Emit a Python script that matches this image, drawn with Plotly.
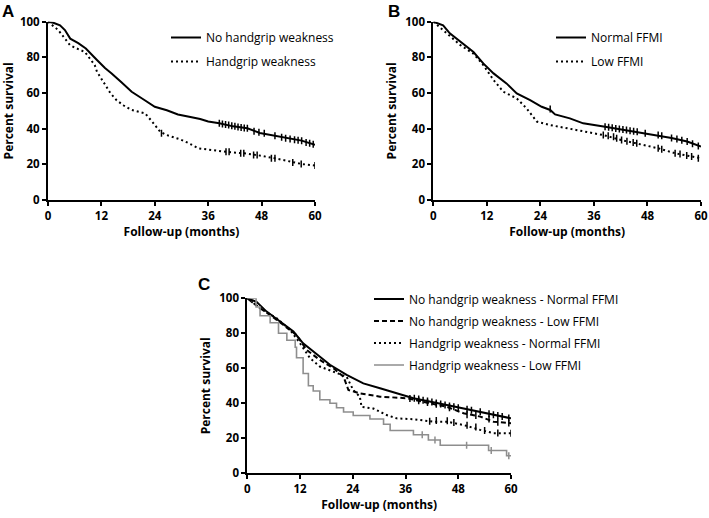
import plotly.graph_objects as go

# ---------------- data ----------------
# Panel A
a_no_weak_t = [0, 1.2, 2.7, 3.8, 5, 6.8, 8.5, 9.8, 11, 12.8, 14.3, 16.5, 18.8, 21.4, 24, 26.7, 29.2, 32, 34.2, 36, 38.5, 41.6, 44.8, 47.6, 51, 54.4, 57, 60]
a_no_weak_s = [100, 99.4, 98, 95.3, 90.5, 88, 85, 81.3, 78.5, 74, 71, 66, 60.7, 56.5, 52.3, 50.3, 48, 46.5, 45.4, 44, 43, 41.3, 40.2, 37.6, 36, 34.2, 33.3, 31]
a_no_weak_cens_t = [38.5, 39.2, 39.9, 40.6, 41.3, 42, 42.7, 43.4, 44.1, 44.8, 46.3, 47.4, 48.6, 51, 52.5, 53.4, 54.4, 55.4, 56.2, 57, 58, 58.8, 59.6]
a_no_weak_cens_s = [43, 42.6, 42.3, 42, 41.6, 41.3, 41, 40.7, 40.4, 40.2, 38.5, 38, 37.4, 36, 35.2, 34.7, 34.2, 33.8, 33.5, 33.3, 32.3, 31.8, 31.2]
a_weak_t = [0, 2.3, 4.9, 6, 8.3, 10.5, 11, 12.8, 14, 15.4, 17, 18.8, 21.8, 23.3, 25.2, 26.7, 29.7, 31.5, 33.8, 37, 40, 44, 47, 51, 55, 57, 60]
a_weak_s = [100, 95.3, 87, 85.5, 83, 75.7, 72, 64.5, 60, 56, 53, 50.5, 48.6, 44.3, 38.3, 36.4, 34, 32, 29, 28, 27, 26.2, 25.2, 23.4, 21, 20.2, 19.3]
a_weak_cens_t = [25.5, 40, 40.7, 43.3, 44, 46.2, 47, 50.2, 51, 55, 56.9, 60]
a_weak_cens_s = [37.5, 27, 27, 26.2, 26.2, 25.2, 25.2, 23.4, 23.4, 21, 20.2, 19.3]

# Panel B
b_normal_t = [0, 2.2, 3.7, 6, 9, 11.2, 13.5, 16.4, 18.7, 21.7, 24.3, 26.2, 27.3, 30.6, 33.6, 38.5, 42.5, 45.7, 50.4, 53.4, 56.9, 60]
b_normal_s = [100, 98, 93.5, 88.8, 83, 76.6, 71, 65.4, 59.8, 56, 52.3, 50.5, 48, 45.8, 43, 41.1, 39.5, 38.3, 36.4, 34.8, 32.8, 30]
b_normal_cens_t = [26.2, 38.5, 39.3, 40.1, 40.9, 41.7, 42.5, 43.3, 44.1, 44.9, 45.7, 47.5, 50.4, 51.2, 53.4, 54.6, 55.7, 56.9, 58.1, 59.4]
b_normal_cens_s = [51, 41.1, 40.8, 40.5, 40.1, 39.8, 39.5, 39.2, 38.9, 38.6, 38.3, 37.5, 36.4, 36, 34.8, 34.2, 33.5, 32.8, 31.5, 30.3]
b_low_t = [0, 3, 6, 9, 11.2, 13.5, 15.7, 18.7, 20.9, 23.2, 26.2, 32, 38.1, 42.2, 45.6, 50.4, 54.2, 57.9, 60]
b_low_s = [100, 93.5, 87, 82, 75.7, 67.3, 60.7, 57, 51.4, 44, 42, 39.3, 36.4, 33.6, 31.8, 29, 26.2, 24.4, 23.4]
b_low_cens_t = [38.1, 39.2, 40.4, 41.1, 42.2, 43.4, 44.8, 45.6, 50.4, 51.2, 54.2, 55.3, 56.8, 57.9, 59.4]
b_low_cens_s = [36.4, 36, 35.5, 34.6, 33.6, 33, 32.2, 31.8, 29, 28.5, 26.2, 25.8, 25, 24.4, 23.4]

# Panel C
c_nw_norm_t = [0, 2.1, 4.4, 7.4, 10.5, 12.7, 15, 18.8, 22.6, 26.4, 30.2, 34, 37.8, 45.4, 53, 60]
c_nw_norm_s = [100, 98, 92.4, 86.7, 81, 74.3, 69.5, 62, 56.2, 51.4, 48.6, 45.7, 42.9, 39, 35.2, 31.4]
c_nw_norm_cens_t = [38, 39, 40, 41, 42, 43, 44, 45, 46, 47, 48, 50, 51, 53, 55, 56, 57, 58, 59.5]
c_nw_norm_cens_s = [42.9, 42.4, 41.8, 41.3, 40.7, 40.2, 39.6, 39, 38.5, 38, 37.5, 36.6, 36.1, 35.2, 34, 33.5, 33, 32.4, 31.6]
c_nw_low_t = [0, 2.9, 5.2, 8.2, 11.2, 13.5, 16.5, 19.6, 21.9, 23, 25.6, 30.2, 36.3, 41.6, 45.4, 49.2, 53, 56, 60]
c_nw_low_s = [100, 94.3, 90.5, 84.8, 79, 70.5, 64.8, 60, 55.2, 47.6, 45.7, 43.8, 42.9, 40, 38, 34.3, 32.4, 29.5, 28.6]
c_nw_low_cens_t = [37, 39, 41, 43, 46, 50, 52, 55, 57, 59.5]
c_nw_low_cens_s = [42.8, 41.5, 40.5, 39.5, 37.5, 33.5, 33, 31, 29.2, 28.8]
c_w_norm_t = [0, 2.9, 6.7, 9.7, 12, 14.3, 16.5, 19.6, 22.6, 24.1, 25.6, 26, 28.7, 31.7, 34, 37.8, 42.3, 45.4, 49.2, 53, 56, 60]
c_w_norm_s = [100, 94.3, 88.6, 82, 74.3, 65.7, 61, 58, 55.2, 47.6, 43.8, 38, 37, 33.3, 31.4, 30.9, 29.5, 29.5, 27.6, 24.8, 22.9, 22.9]
c_w_norm_cens_t = [41.5, 43, 45.5, 47, 50, 52, 54, 57, 60]
c_w_norm_cens_s = [29.8, 30.2, 30, 29, 27.4, 26.5, 24.5, 23, 22.9]
c_w_low_t = [0, 2, 2.9, 5.2, 7.1, 9, 10.9, 11.2, 12.7, 13.9, 15, 16.5, 18.8, 20.3, 21.9, 24.1, 27.9, 31, 32.5, 37.8, 41.2, 43.9, 54.9, 59, 60]
c_w_low_s = [100, 95, 90, 86, 80, 76, 72, 66, 57, 50, 47, 42, 40, 37.5, 35, 33, 31, 28, 24.5, 22, 19, 16, 13, 10, 10]
c_w_low_cens_t = [39.8, 42.7, 49.9, 55.5, 59.5]
c_w_low_cens_s = [22, 19, 16, 13, 10]

x_ticks = [0, 12, 24, 36, 48, 60]
y_ticks = [0, 20, 40, 60, 80, 100]
x_title = "Follow-up (months)"
y_title = "Percent survival"

FONT = "Open Sans"
GRAY = "#8e8e8e"
DOT = "2px,3px"
DASH = "5px,3px"

fig = go.Figure()

def curve(t, s, ct, cs, name, ax, legend, dash="solid", color="black", width=2, shape="linear"):
    fig.add_trace(go.Scatter(x=t, y=s, mode="lines", name=name,
                             line=dict(color=color, width=width, dash=dash, shape=shape),
                             xaxis="x" + ax, yaxis="y" + ax, legend=legend,
                             legendgroup=name))
    fig.add_trace(go.Scatter(x=ct, y=cs, mode="markers", showlegend=False,
                             marker=dict(symbol="line-ns", size=5, color=color,
                                         line=dict(color=color, width=1.5)),
                             xaxis="x" + ax, yaxis="y" + ax, legendgroup=name, hoverinfo="skip"))

curve(a_no_weak_t, a_no_weak_s, a_no_weak_cens_t, a_no_weak_cens_s, "No handgrip weakness", "", "legend")
curve(a_weak_t, a_weak_s, a_weak_cens_t, a_weak_cens_s, "Handgrip weakness", "", "legend", dash=DOT)
curve(b_normal_t, b_normal_s, b_normal_cens_t, b_normal_cens_s, "Normal FFMI", "2", "legend2")
curve(b_low_t, b_low_s, b_low_cens_t, b_low_cens_s, "Low FFMI", "2", "legend2", dash=DOT)
curve(c_nw_norm_t, c_nw_norm_s, c_nw_norm_cens_t, c_nw_norm_cens_s, "No handgrip weakness - Normal FFMI", "3", "legend3")
curve(c_nw_low_t, c_nw_low_s, c_nw_low_cens_t, c_nw_low_cens_s, "No handgrip weakness - Low FFMI", "3", "legend3", dash=DASH)
curve(c_w_norm_t, c_w_norm_s, c_w_norm_cens_t, c_w_norm_cens_s, "Handgrip weakness - Normal FFMI", "3", "legend3", dash=DOT)
curve(c_w_low_t, c_w_low_s, c_w_low_cens_t, c_w_low_cens_s, "Handgrip weakness - Low FFMI", "3", "legend3",
      color=GRAY, width=1.6, shape="hv")

W, H = 709, 518
def px(x): return x / W
def py(y): return 1 - y / H

TICKFONT = dict(family=FONT, size=11.5, color="black", weight="bold")
TITLEFONT = dict(family=FONT, size=12, color="black", weight="bold")

def xax(domain, anchor):
    return dict(domain=domain, range=[0, 60], tickvals=x_ticks, ticks="outside", ticklen=4,
                tickwidth=2, tickcolor="black", showline=True, linecolor="black", linewidth=2,
                showgrid=False, zeroline=False, anchor=anchor, automargin=False,
                tickfont=TICKFONT, title=dict(text=x_title, font=TITLEFONT, standoff=6))

def yax(domain, anchor):
    return dict(domain=domain, range=[0, 100], tickvals=y_ticks, ticks="outside", ticklen=4,
                tickwidth=2, tickcolor="black", showline=True, linecolor="black", linewidth=2,
                showgrid=False, zeroline=False, anchor=anchor, automargin=False,
                tickfont=TICKFONT, title=dict(text=y_title, font=TITLEFONT, standoff=6))

def leg(x, y, gap):
    return dict(x=px(x), y=py(y), xanchor="left", yanchor="top", bgcolor="rgba(0,0,0,0)",
                font=dict(family=FONT, size=12, color="black"), traceorder="grouped",
                tracegroupgap=gap, itemwidth=30)

fig.update_layout(
    width=W, height=H, margin=dict(l=0, r=0, t=0, b=0, autoexpand=False),
    paper_bgcolor="white", plot_bgcolor="white",
    xaxis=xax([px(48), px(315)], "y"), yaxis=yax([py(200), py(21.7)], "x"),
    xaxis2=xax([px(433.3), px(701)], "y2"), yaxis2=yax([py(200), py(21.7)], "x2"),
    xaxis3=xax([px(247.3), px(511)], "y3"), yaxis3=yax([py(473.3), py(298.3)], "x3"),
    legend=leg(166, 23, 5),
    legend2=leg(551, 23, 5),
    legend3=leg(369, 284.5, 3),
    annotations=[
        dict(text="<b>A</b>", x=0, y=1, xref="paper", yref="paper", xanchor="left", yanchor="top",
             showarrow=False, font=dict(family="Liberation Sans", size=17, color="black")),
        dict(text="<b>B</b>", x=px(386), y=1, xref="paper", yref="paper", xanchor="left", yanchor="top",
             showarrow=False, font=dict(family="Liberation Sans", size=17, color="black")),
        dict(text="<b>C</b>", x=px(196), y=py(273), xref="paper", yref="paper", xanchor="left", yanchor="top",
             showarrow=False, font=dict(family="Liberation Sans", size=17, color="black")),
    ],
)

fig.write_html("out.html", config={"displayModeBar": False},
               post_script="document.body.style.margin='0';")
